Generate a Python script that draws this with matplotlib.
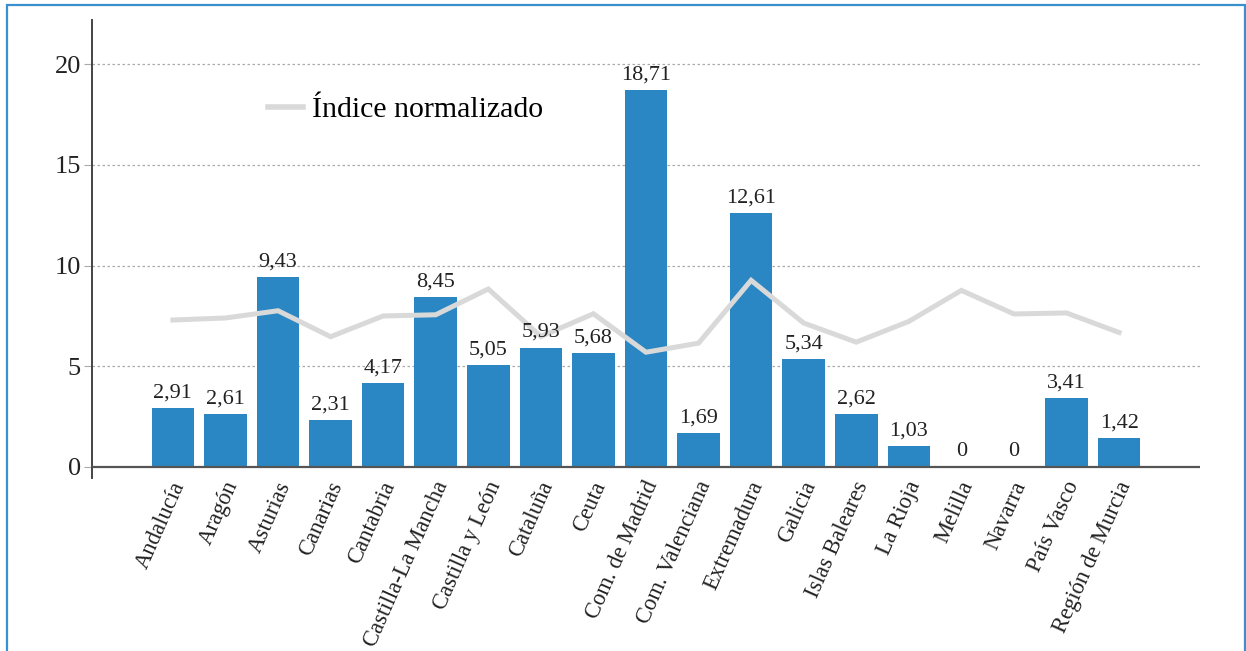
import matplotlib
matplotlib.use("Agg")
import matplotlib.pyplot as plt
from matplotlib.patches import Rectangle
from matplotlib.transforms import ScaledTranslation
import numpy as np

regions = ["Andalucía", "Aragón", "Asturias", "Canarias", "Cantabria",
           "Castilla-La Mancha", "Castilla y León", "Cataluña", "Ceuta",
           "Com. de Madrid", "Com. Valenciana", "Extremadura", "Galicia",
           "Islas Baleares", "La Rioja", "Melilla", "Navarra", "País Vasco",
           "Región de Murcia"]
values = [2.91, 2.61, 9.43, 2.31, 4.17, 8.45, 5.05, 5.93, 5.68, 18.71,
          1.69, 12.61, 5.34, 2.62, 1.03, 0, 0, 3.41, 1.42]
indice = [7.3, 7.4, 7.76, 6.47, 7.5, 7.56, 8.84, 6.48, 7.61, 5.7,
          6.15, 9.27, 7.15, 6.2, 7.23, 8.77, 7.6, 7.65, 6.68]
yticks = [0, 5, 10, 15, 20]

plt.rcParams['font.family'] = ['Liberation Serif', 'DejaVu Serif']

blue = "#2b87c3"
grey_line = "#d9d9d9"

fig = plt.figure(figsize=(12.46, 6.51), dpi=100)
ax = fig.add_axes([0.0738, 0.2657, 0.8893, 0.7035])

x = np.arange(len(regions))
ax.bar(x, values, width=0.81, color=blue, zorder=3)
ax.plot(x, indice, color=grey_line, lw=3.6, zorder=4, solid_joinstyle='miter',
        label="Índice normalizado")

for xi, v in zip(x, values):
    ax.annotate(f"{v:.2f}".replace(".", ",") if v else "0", (xi, v),
                xytext=(0, 4), textcoords="offset points",
                ha="center", va="bottom", fontsize=16, color="#222222", zorder=5)

ax.set_xlim(-1.54, 19.54)
ax.set_ylim(-0.55, 22.2)
ax.set_yticks(yticks)
ax.set_yticklabels([str(t) for t in yticks], fontsize=19, color="#222222")
for t in yticks[1:]:
    ax.axhline(t, color="#aaaaaa", lw=0.9, ls=(0, (2, 2)), zorder=1)
ax.axhline(0, color="#555555", lw=1.6, zorder=5)

ax.set_xticks(x)
ax.set_xticklabels(regions, rotation=66, ha="right", va="center",
                   rotation_mode="anchor", fontsize=16.3, color="#222222")
ax.tick_params(axis="x", length=0, pad=3)
ax.tick_params(axis="y", length=6, color="#aaaaaa", pad=2)
shift = ScaledTranslation(7 / 100, 0, fig.dpi_scale_trans)
for lab in ax.get_xticklabels():
    lab.set_transform(lab.get_transform() + shift)

for s in ["top", "right", "bottom"]:
    ax.spines[s].set_visible(False)
ax.spines["left"].set_color("#444444")
ax.spines["left"].set_linewidth(1.4)

leg = ax.legend(loc="center left", bbox_to_anchor=(0.159, 0.8035), frameon=False,
                fontsize=21.5, handlelength=1.17, handletextpad=0.3,
                borderpad=0, borderaxespad=0)
for line in leg.get_lines():
    line.set_linewidth(4)

fig.patches.append(Rectangle((7 / 1246, -0.05), 1238 / 1246, 1.05 - 5 / 651,
                             transform=fig.transFigure, fill=False,
                             edgecolor="#3a8fce", lw=1.6))

fig.savefig("out.png", dpi=100)
